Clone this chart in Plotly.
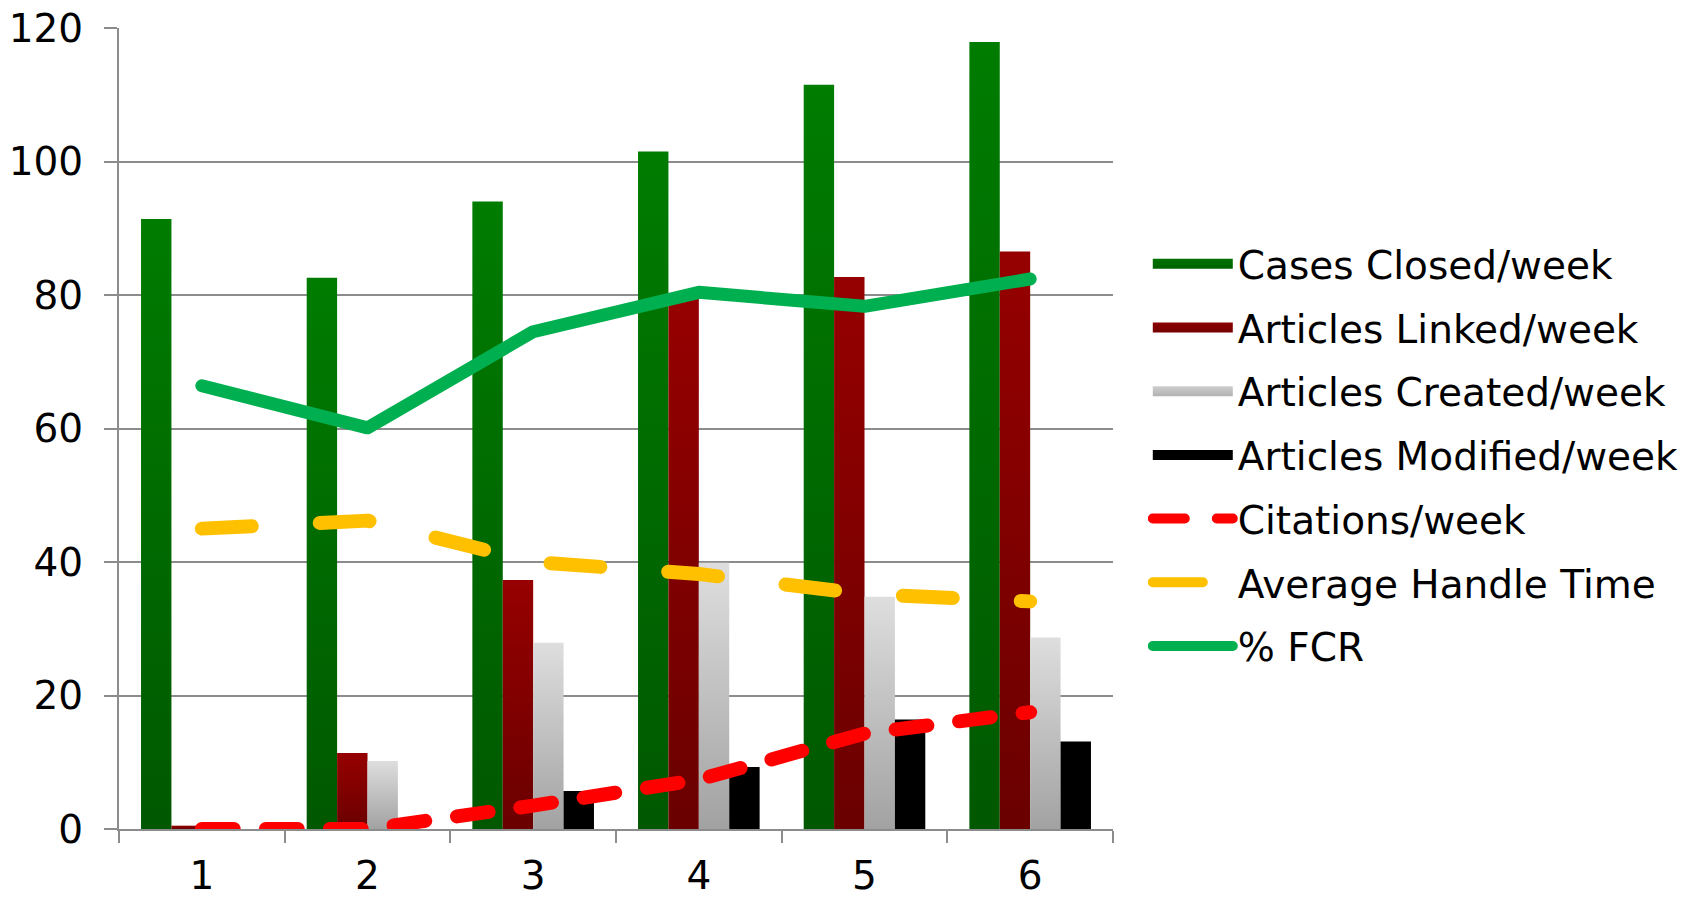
import plotly.graph_objects as go

weeks = ["1", "2", "3", "4", "5", "6"]
cases_closed = [91.4, 82.6, 94.0, 101.5, 111.5, 117.9]
articles_linked = [0.5, 11.4, 37.3, 79.5, 82.7, 86.5]
articles_created = [0, 10.2, 27.9, 39.9, 34.8, 28.7]
articles_modified = [0, 0, 5.7, 9.3, 16.4, 13.1]
citations = [0, 0, 3.5, 7.4, 14.3, 17.5]
avg_handle_time = [45.0, 46.2, 40.0, 38.2, 35.2, 34.1]
fcr = [66.4, 60.1, 74.5, 80.4, 78.3, 82.4]

FONT = "Verdana, DejaVu Sans, sans-serif"
GRID = "#8c8c8c"

fig = go.Figure()

bar_specs = [
    ("Cases Closed/week", cases_closed, "#006a00"),
    ("Articles Linked/week", articles_linked, "#820000"),
    ("Articles Created/week", articles_created, "#c4c4c4"),
    ("Articles Modified/week", articles_modified, "#000000"),
]
for name, vals, col in bar_specs:
    fig.add_trace(go.Bar(x=weeks, y=vals, name=name, marker=dict(color=col, line=dict(width=0)),
                         showlegend=False, legendgroup=name))
    # legend swatch entry (no data)
    fig.add_trace(go.Scatter(x=[None], y=[None], mode="lines", name=name, legendgroup=name,
                             line=dict(color=col, width=22)))

fig.add_trace(go.Scatter(x=weeks, y=citations, name="Citations/week", mode="lines",
                         line=dict(color="#ff0000", width=14, dash="32px,32px"), legendgroup="c"))
fig.add_trace(go.Scatter(x=weeks, y=avg_handle_time, name="Average Handle Time", mode="lines",
                         line=dict(color="#ffc000", width=14, dash="50px,68px"), legendgroup="a"))
fig.add_trace(go.Scatter(x=weeks, y=fcr, name="% FCR", mode="lines",
                         line=dict(color="#00b050", width=13), legendgroup="f"))

fig.update_layout(
    width=1696, height=897,
    margin=dict(l=119, r=583, t=28, b=68),
    plot_bgcolor="white", paper_bgcolor="white",
    barmode="group", bargap=0.266, bargroupgap=0,
    font=dict(family=FONT, size=39, color="black"),
    legend=dict(x=1.035, xanchor="left", y=0.467, yanchor="middle",
                itemwidth=80, tracegroupgap=10, font=dict(size=39),
                bgcolor="rgba(0,0,0,0)"),
    showlegend=True,
)
fig.update_xaxes(type="category", showline=True, linecolor=GRID, linewidth=2,
                 ticks="outside", tickson="boundaries", ticklen=12, tickwidth=2, tickcolor=GRID,
                 showgrid=False, tickfont=dict(size=39), ticklabelstandoff=11, automargin=False)
fig.update_yaxes(range=[0, 120], dtick=20, showline=True, linecolor=GRID, linewidth=2,
                 ticks="outside", ticklen=13, tickwidth=2, tickcolor=GRID,
                 showgrid=True, gridcolor=GRID, gridwidth=2, zeroline=False,
                 tickfont=dict(size=39), ticklabelstandoff=13, automargin=False)

post = """
(function(){
  var st = document.createElement('style');
  st.textContent = '.scatterlayer path.js-line, .legend .groups:nth-of-type(n+5) .legendlines path { stroke-linecap: round !important; stroke-linejoin: round !important; }';
  document.head.appendChild(st);
  function apply(){
    var gd = document.getElementById('{plot_id}');
    if (!gd) return;
    var svg = gd.querySelector('svg.main-svg');
    if (!svg) return;
    var NS = 'http://www.w3.org/2000/svg';
    var defs = svg.querySelector('defs');
    if (!defs) { defs = document.createElementNS(NS, 'defs'); svg.insertBefore(defs, svg.firstChild); }
    var grads = [['#007c00', '#005800'], ['#960000', '#6a0000'], ['#dedede', '#a2a2a2']];
    grads.forEach(function(c, i){
      ['b', 'l'].forEach(function(kind){
        var id = 'grad' + kind + i;
        if (document.getElementById(id)) return;
        var g = document.createElementNS(NS, 'linearGradient');
        g.setAttribute('id', id);
        g.setAttribute('x1', '0'); g.setAttribute('x2', '0');
        if (kind === 'b') { g.setAttribute('y1', '0'); g.setAttribute('y2', '1'); }
        else { g.setAttribute('gradientUnits', 'userSpaceOnUse'); g.setAttribute('y1', '-11'); g.setAttribute('y2', '11'); }
        var s1 = document.createElementNS(NS, 'stop'); s1.setAttribute('offset', '0'); s1.setAttribute('stop-color', c[0]);
        var s2 = document.createElementNS(NS, 'stop'); s2.setAttribute('offset', '1'); s2.setAttribute('stop-color', c[1]);
        g.appendChild(s1); g.appendChild(s2); defs.appendChild(g);
      });
    });
    var traces = gd.querySelectorAll('.barlayer .trace');
    for (var i = 0; i < 3 && i < traces.length; i++) {
      traces[i].querySelectorAll('path').forEach(function(p){ p.style.setProperty('fill', 'url(#gradb' + i + ')', 'important'); });
    }
    var groups = gd.querySelectorAll('.legend .groups');
    for (var j = 0; j < 3 && j < groups.length; j++) {
      groups[j].querySelectorAll('.legendlines path').forEach(function(p){ p.style.setProperty('stroke', 'url(#gradl' + j + ')', 'important'); });
    }
  }
  apply();
  setTimeout(apply, 0);
  setTimeout(apply, 200);
})();
"""

fig.write_html("out.html", post_script=post)
